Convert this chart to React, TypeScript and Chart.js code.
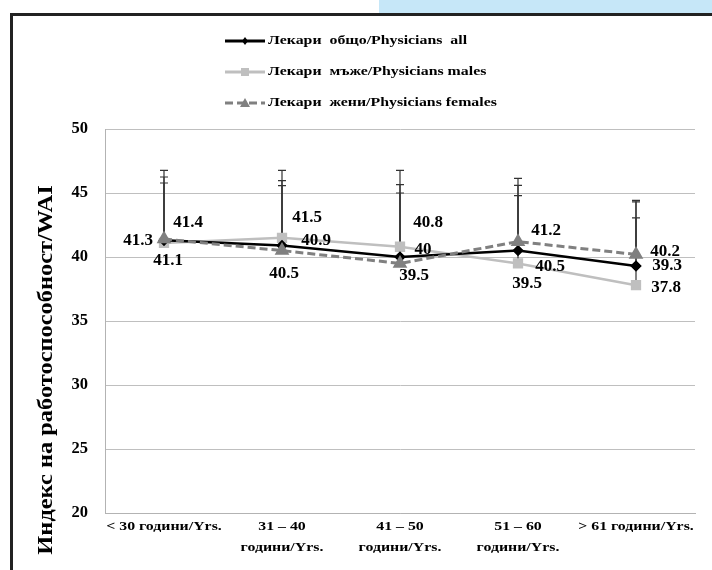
import React, { useEffect, useRef } from "react";
import { Chart, registerables } from "chart.js";

Chart.register(...registerables);

const categories: string[][] = [
  ["< 30 години/Yrs."],
  ["31 – 40", "години/Yrs."],
  ["41 – 50", "години/Yrs."],
  ["51 – 60", "години/Yrs."],
  ["> 61 години/Yrs."],
];

const seriesNames = [
  "Лекари  общо/Physicians  all",
  "Лекари  мъже/Physicians males",
  "Лекари  жени/Physicians females",
];

const allValues = [41.3, 40.9, 40, 40.5, 39.3];
const maleValues = [41.1, 41.5, 40.8, 39.5, 37.8];
const femaleValues = [41.4, 40.5, 39.5, 41.2, 40.2];

// upper error (SD) for each series
const allErrors = [4.95, 5.06, 5.65, 5.1, 5.0];
const maleErrors = [5.67, 5.27, 5.97, 6.65, 5.25];
const femaleErrors = [4.38, 5.07, 5.5, 3.6, 4.22];

const yTicks = [20, 25, 30, 35, 40, 45, 50];

const yTitle = "Индекс на работоспособност/WAI";

// label offsets relative to each point (px)
const allLabelOffsets = [[-26, 0], [34, -5], [23, -7], [32, 16], [31, 0]];
const maleLabelOffsets = [[4, 18], [25, -20], [28, -24], [9, 20], [30, 2]];
const femaleLabelOffsets = [[24, -16], [2, 23], [14, 12], [28, -11], [29, -3]];

const SERIF = "'Liberation Serif', 'Times New Roman', serif";
const STRETCH = 1.22;

function stretchedText(ctx: any, text: string, x: number, y: number, align: string) {
  ctx.save();
  ctx.translate(x, y);
  ctx.scale(STRETCH, 1);
  ctx.textAlign = align;
  ctx.fillText(text, 0, 0);
  ctx.restore();
}

const errorBarPlugin = {
  id: "errorBars",
  beforeDatasetsDraw(chart: any) {
    const ctx = chart.ctx;
    const yScale = chart.scales.y;
    ctx.save();
    ctx.strokeStyle = "#333333";
    ctx.lineWidth = 1.2;
    chart.data.datasets.forEach((ds: any, i: number) => {
      const meta = chart.getDatasetMeta(i);
      meta.data.forEach((pt: any, j: number) => {
        const v = ds.data[j];
        const e = ds.errors[j];
        const yTop = yScale.getPixelForValue(v + e);
        ctx.beginPath();
        ctx.moveTo(pt.x, pt.y);
        ctx.lineTo(pt.x, yTop);
        ctx.moveTo(pt.x - 4, yTop);
        ctx.lineTo(pt.x + 4, yTop);
        ctx.stroke();
      });
    });
    ctx.restore();
  },
};

const labelPlugin = {
  id: "pointLabels",
  afterDatasetsDraw(chart: any) {
    const ctx = chart.ctx;
    ctx.save();
    ctx.fillStyle = "#000";
    ctx.font = `bold 17px ${SERIF}`;
    ctx.textAlign = "center";
    ctx.textBaseline = "middle";
    chart.data.datasets.forEach((ds: any, i: number) => {
      const meta = chart.getDatasetMeta(i);
      meta.data.forEach((pt: any, j: number) => {
        const off = ds.labelOffsets[j];
        ctx.fillText(String(ds.data[j]), pt.x + off[0], pt.y + off[1]);
      });
    });
    ctx.restore();
  },
};

const xLabelPlugin = {
  id: "xLabels",
  afterDraw(chart: any) {
    const ctx = chart.ctx;
    const xScale = chart.scales.x;
    const base = chart.chartArea.bottom;
    ctx.save();
    ctx.fillStyle = "#000";
    ctx.font = `bold 13px ${SERIF}`;
    ctx.textBaseline = "middle";
    categories.forEach((lines, i) => {
      const x = xScale.getPixelForTick(i);
      lines.forEach((line, k) => {
        stretchedText(ctx, line, x, base + 14 + k * 21, "center");
      });
    });
    ctx.restore();
  },
};

const legendPlugin = {
  id: "customLegend",
  afterDraw(chart: any) {
    const ctx = chart.ctx;
    const x0 = 212;
    const rows = [25, 56, 87];
    ctx.save();
    chart.data.datasets.forEach((ds: any, i: number) => {
      const y = rows[i];
      ctx.strokeStyle = ds.borderColor;
      ctx.lineWidth = 3;
      ctx.setLineDash(ds.borderDash || []);
      ctx.beginPath();
      ctx.moveTo(x0, y);
      ctx.lineTo(x0 + 40, y);
      ctx.stroke();
      ctx.setLineDash([]);
      ctx.fillStyle = ds.pointBackgroundColor;
      const cx = x0 + 20;
      const style = ds.pointStyle;
      ctx.beginPath();
      if (style === "rectRot") {
        ctx.moveTo(cx, y - 4);
        ctx.lineTo(cx + 3, y);
        ctx.lineTo(cx, y + 4);
        ctx.lineTo(cx - 3, y);
        ctx.closePath();
      } else if (style === "rect") {
        ctx.rect(cx - 4, y - 4, 8, 8);
      } else {
        ctx.moveTo(cx, y - 5);
        ctx.lineTo(cx + 5, y + 4);
        ctx.lineTo(cx - 5, y + 4);
        ctx.closePath();
      }
      ctx.fill();
      ctx.fillStyle = "#000";
      ctx.font = `bold 13px ${SERIF}`;
      ctx.textBaseline = "middle";
      stretchedText(ctx, seriesNames[i], x0 + 43, y, "left");
    });
    ctx.restore();
  },
};

const yTitlePlugin = {
  id: "yTitle",
  afterDraw(chart: any) {
    const ctx = chart.ctx;
    ctx.save();
    ctx.translate(34, 354);
    ctx.rotate(-Math.PI / 2);
    ctx.fillStyle = "#000";
    ctx.font = `bold 20px ${SERIF}`;
    ctx.textBaseline = "middle";
    stretchedText(ctx, yTitle, 0, 0, "center");
    ctx.restore();
  },
};

export default function App() {
  const ref = useRef<HTMLCanvasElement>(null);

  useEffect(() => {
    if (!ref.current) return;
    const chart = new Chart(ref.current, {
      type: "line",
      data: {
        labels: categories,
        datasets: [
          {
            label: seriesNames[0],
            data: allValues,
            errors: allErrors,
            labelOffsets: allLabelOffsets,
            borderColor: "#000000",
            backgroundColor: "#000000",
            pointBackgroundColor: "#000000",
            pointBorderColor: "#000000",
            pointStyle: "rectRot",
            pointRadius: 4,
            borderWidth: 2.5,
            order: 1,
          } as any,
          {
            label: seriesNames[1],
            data: maleValues,
            errors: maleErrors,
            labelOffsets: maleLabelOffsets,
            borderColor: "#bfbfbf",
            backgroundColor: "#bfbfbf",
            pointBackgroundColor: "#bfbfbf",
            pointBorderColor: "#bfbfbf",
            pointStyle: "rect",
            pointRadius: 5.5,
            borderWidth: 2.5,
            order: 2,
          } as any,
          {
            label: seriesNames[2],
            data: femaleValues,
            errors: femaleErrors,
            labelOffsets: femaleLabelOffsets,
            borderColor: "#808080",
            backgroundColor: "#808080",
            pointBackgroundColor: "#808080",
            pointBorderColor: "#808080",
            pointStyle: "triangle",
            pointRadius: 5.5,
            borderWidth: 3,
            borderDash: [8, 4],
            order: 0,
          } as any,
        ],
      },
      options: {
        animation: false,
        responsive: false,
        events: [],
        layout: { padding: { left: 52, top: 113, right: 17, bottom: 7 } },
        plugins: {
          legend: { display: false },
          tooltip: { enabled: false },
          title: { display: false },
        },
        scales: {
          x: {
            type: "category",
            offset: true,
            grid: { display: false, drawTicks: false },
            border: { display: true, color: "#b3b3b3", width: 1 },
            ticks: { display: false, autoSkip: false },
            afterFit(scale: any) {
              scale.height = 50;
            },
          },
          y: {
            min: 20,
            max: 50,
            afterBuildTicks(scale: any) {
              scale.ticks = yTicks.map((v) => ({ value: v }));
            },
            grid: { color: "#bfbfbf", lineWidth: 1, drawTicks: false },
            border: { display: true, color: "#b3b3b3", width: 1 },
            ticks: {
              color: "#000",
              font: { family: SERIF, size: 16.5, weight: "bold" },
              padding: 17,
            },
            afterFit(scale: any) {
              scale.width = 40;
            },
          },
        },
      },
      plugins: [errorBarPlugin, labelPlugin, xLabelPlugin, legendPlugin, yTitlePlugin],
    } as any);
    return () => chart.destroy();
  }, []);

  return (
    <div style={{ position: "absolute", left: 0, top: 0, width: 712, height: 570, background: "#fff", overflow: "hidden" }}>
      <div style={{ position: "absolute", left: 379, top: 0, width: 333, height: 13, background: "#c6e7f8" }} />
      <div style={{ position: "absolute", left: 10, top: 13, width: 702, height: 3, background: "#222" }} />
      <div style={{ position: "absolute", left: 10, top: 13, width: 3, height: 557, background: "#222" }} />
      <canvas ref={ref} width={699} height={554} style={{ position: "absolute", left: 13, top: 16, width: 699, height: 554 }} />
    </div>
  );
}
